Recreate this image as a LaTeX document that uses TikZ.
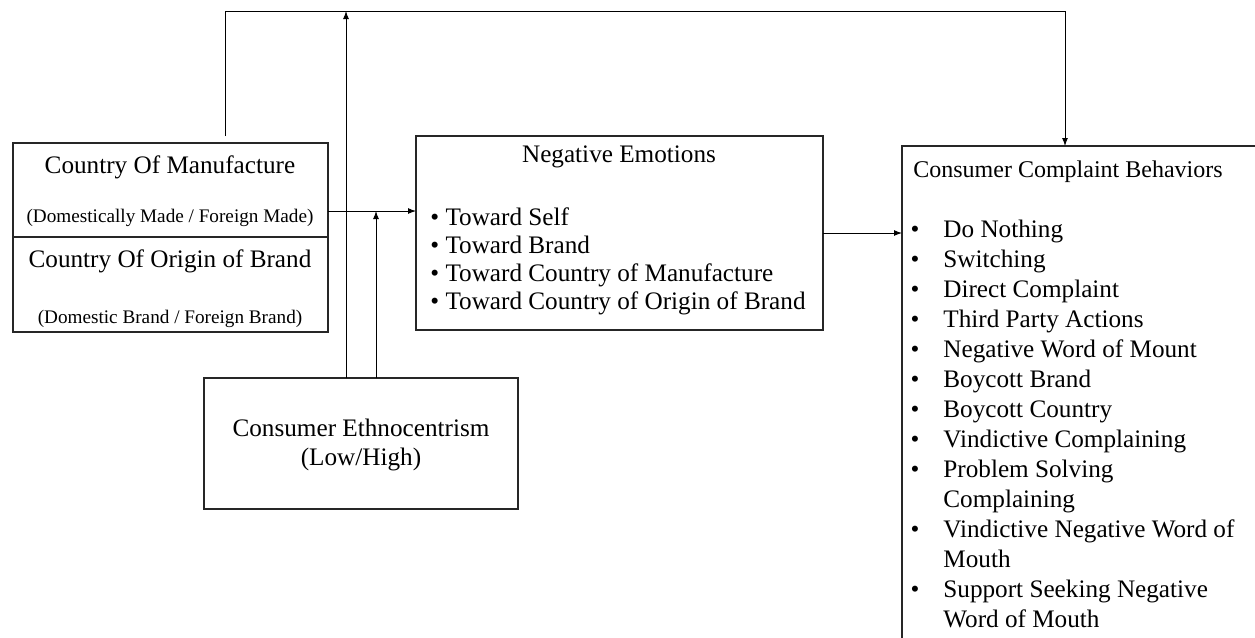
\documentclass[tikz,border=0pt]{standalone}
\usepackage{fontspec}
\setmainfont{Liberation Serif}
\usepackage{tikz}
\usetikzlibrary{arrows.meta,positioning,calc}

\begin{document}
\begin{tikzpicture}
  [
    x=0.5pt, y=-0.5pt,
    Box/.style={rectangle, draw=black!85, line width=0.6pt, anchor=north west, inner sep=0pt, outer sep=0pt},
    Title/.style={anchor=base, font=\fontsize{12.6}{15}\selectfont, inner sep=0pt},
    Small/.style={anchor=base, font=\fontsize{9.6}{12}\selectfont, inner sep=0pt},
    Item/.style={anchor=base west, font=\fontsize{12.6}{15}\selectfont, inner sep=0pt},
    Link/.style={draw=black, line width=0.5pt, -{Latex[length=4pt, width=3pt]}}
  ]
  \clip (0,0) rectangle (1255,638);
  % Boxes
  \node[Box, minimum width=157.5pt, minimum height=47pt] (com) at (13,143) {};
  \node[Box, minimum width=157.5pt, minimum height=47.5pt] (cob) at (13,237) {};
  \node[Box, minimum width=203.5pt, minimum height=97pt] (ne) at (416,136) {};
  \node[Box, minimum width=157pt, minimum height=65.5pt] (ce) at (204,378) {};
  \node[Box, minimum width=220pt, minimum height=280pt] (ccb) at (902,146) {};

  % Texts
  \node[Title] (comT) at (170,173) {Country Of Manufacture};
  \node[Small] (comS) at (170,222) {(Domestically Made / Foreign Made)};
  \node[Title] (cobT) at (170,267) {Country Of Origin of Brand};
  \node[Small] (cobS) at (170,323) {(Domestic Brand / Foreign Brand)};
  \node[Title] (neT) at (619,162) {Negative Emotions};
  \node[Item] (ne1) at (430,225) {\textbullet\ Toward Self};
  \node[Item] (ne2) at (430,253) {\textbullet\ Toward Brand};
  \node[Item] (ne3) at (430,281) {\textbullet\ Toward Country of Manufacture};
  \node[Item] (ne4) at (430,309) {\textbullet\ Toward Country of Origin of Brand};
  \node[Title] (ceT) at (361,436) {Consumer Ethnocentrism};
  \node[Title] (ceS) at (361,465) {(Low/High)};
  \node[Title, font=\fontsize{12}{15}\selectfont] (ccbT) at (1068,177) {Consumer Complaint Behaviors};
  \foreach \txt [count=\i from 0] in {Do Nothing, Switching, Direct Complaint,
      Third Party Actions, Negative Word of Mount, Boycott Brand, Boycott Country,
      Vindictive Complaining, Problem Solving, Complaining,
      Vindictive Negative Word of, Mouth, Support Seeking Negative, Word of Mouth}
    \node[Item] (cc\i) at (943,237+30*\i) {\txt};
  \foreach \i in {0,...,8,10,12}
    \node[Title] (bu\i) at (915,237+30*\i) {\textbullet};

  % Connectors
  \coordinate (split) at (225,136);
  \coordinate (topA) at (346,11);
  \coordinate (join) at (376,211);
  \coordinate (ccbIn) at (1065,146);
  \draw[Link] (split) |- (ccbIn |- topA) -- (ccbIn);
  \draw[Link] (ce.north -| topA) -- (topA);
  \draw[Link] (ce.north -| join) -- (join);
  \draw[Link] (join -| com.east) -- (join -| ne.west);
  \draw[Link] (ne.east) -- (ne.east -| ccb.west);
\end{tikzpicture}
\end{document}
